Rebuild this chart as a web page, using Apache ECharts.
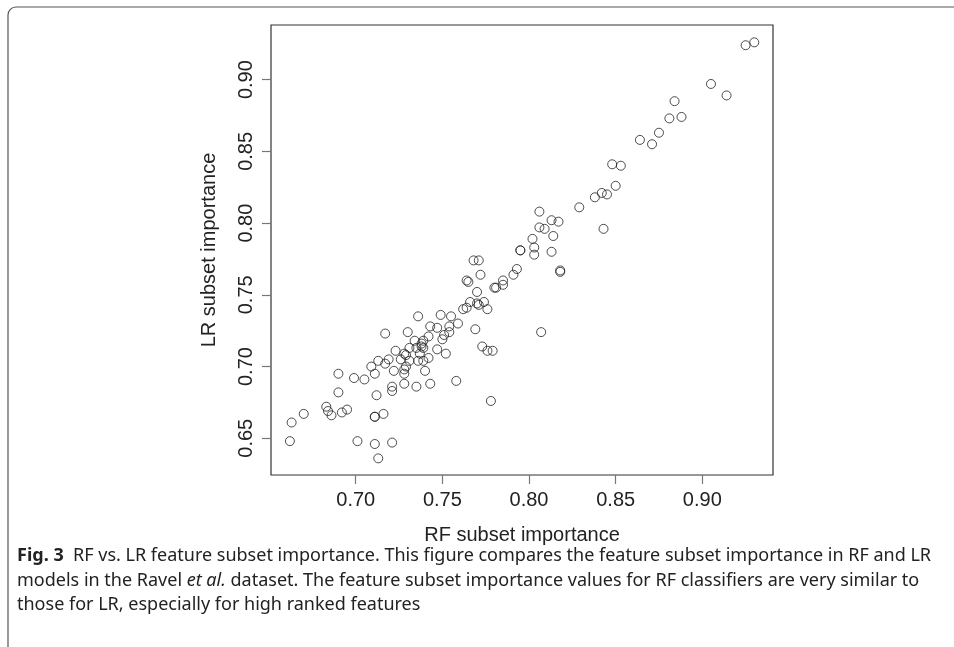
<!DOCTYPE html>
<html>
<head>
<meta charset="utf-8">
<script src="https://cdn.jsdelivr.net/npm/echarts@6/dist/echarts.min.js"></script>
<style>
  html, body { margin: 0; padding: 0; background: #fff; }
  #chart { width: 954px; height: 647px; }
</style>
</head>
<body>
<div id="chart"></div>
<script>
// RF subset importance (x) and LR subset importance (y)
const rfImportance = [
  0.925, 0.930, 0.905, 0.914, 0.884, 0.881, 0.888, 0.875, 0.864, 0.871,
  0.848, 0.853, 0.850, 0.838, 0.842, 0.845, 0.829, 0.843, 0.806, 0.813,
  0.817, 0.806, 0.809, 0.814, 0.802, 0.803, 0.803, 0.813, 0.795, 0.795,
  0.818, 0.818, 0.807, 0.793, 0.791, 0.785, 0.785, 0.780, 0.781, 0.768,
  0.771, 0.772, 0.764, 0.765, 0.770, 0.766, 0.770, 0.771, 0.774, 0.776,
  0.762, 0.764, 0.769, 0.773, 0.776, 0.779, 0.778, 0.758, 0.759, 0.755,
  0.754, 0.749, 0.754, 0.751, 0.750, 0.752, 0.747, 0.747, 0.743, 0.742,
  0.736, 0.730, 0.734, 0.739, 0.738, 0.739, 0.738, 0.735, 0.731, 0.737,
  0.736, 0.739, 0.742, 0.740, 0.743, 0.735, 0.728, 0.723, 0.728, 0.729,
  0.726, 0.731, 0.729, 0.728, 0.728, 0.717, 0.719, 0.717, 0.713, 0.709,
  0.711, 0.722, 0.721, 0.721, 0.712, 0.705, 0.699, 0.690, 0.690, 0.683,
  0.684, 0.686, 0.692, 0.695, 0.670, 0.663, 0.662, 0.701, 0.711, 0.711,
  0.716, 0.711, 0.721, 0.713
];
const lrImportance = [
  0.924, 0.926, 0.897, 0.889, 0.885, 0.873, 0.874, 0.863, 0.858, 0.855,
  0.841, 0.840, 0.826, 0.818, 0.821, 0.820, 0.811, 0.796, 0.808, 0.802,
  0.801, 0.797, 0.796, 0.791, 0.789, 0.783, 0.778, 0.780, 0.781, 0.781,
  0.767, 0.766, 0.724, 0.768, 0.764, 0.760, 0.757, 0.755, 0.755, 0.774,
  0.774, 0.764, 0.760, 0.759, 0.752, 0.745, 0.744, 0.743, 0.745, 0.740,
  0.740, 0.741, 0.726, 0.714, 0.711, 0.711, 0.676, 0.690, 0.730, 0.735,
  0.728, 0.736, 0.724, 0.722, 0.719, 0.709, 0.712, 0.727, 0.728, 0.721,
  0.735, 0.724, 0.718, 0.718, 0.716, 0.713, 0.714, 0.713, 0.713, 0.709,
  0.704, 0.704, 0.706, 0.697, 0.688, 0.686, 0.688, 0.711, 0.709, 0.708,
  0.705, 0.704, 0.700, 0.698, 0.695, 0.723, 0.705, 0.702, 0.704, 0.700,
  0.695, 0.697, 0.686, 0.683, 0.680, 0.691, 0.692, 0.695, 0.682, 0.672,
  0.669, 0.666, 0.668, 0.670, 0.667, 0.661, 0.648, 0.648, 0.665, 0.665,
  0.667, 0.646, 0.647, 0.636
];
const xTickValues = [0.70, 0.75, 0.80, 0.85, 0.90];
const yTickValues = [0.65, 0.70, 0.75, 0.80, 0.85, 0.90];
const xTitle = 'RF subset importance';
const yTitle = 'LR subset importance';

const points = rfImportance.map((v, i) => [v, lrImportance[i]]);
const chart = echarts.init(document.getElementById('chart'), null, { renderer: 'canvas' });
const axisFont = 'Liberation Sans, Arial, sans-serif';
const capFont = 'Noto Sans, sans-serif';
const capSize = 18;

chart.setOption({
  animation: false,
  backgroundColor: '#fff',
  grid: {
    left: 271, top: 25, width: 502, height: 450,
    show: true, borderColor: '#333', borderWidth: 1.2, backgroundColor: 'transparent'
  },
  xAxis: {
    type: 'value', min: 0.6511, max: 0.9408,
    splitLine: { show: false },
    axisLine: { show: false },
    axisTick: { show: true, length: 9, lineStyle: { color: '#777', width: 1.2 }, customValues: xTickValues },
    axisLabel: { customValues: xTickValues, formatter: v => v.toFixed(2), margin: 15,
      fontFamily: axisFont, fontSize: 20, color: '#222' },
    name: xTitle, nameLocation: 'middle', nameGap: 50,
    nameTextStyle: { fontFamily: axisFont, fontSize: 20, color: '#222' }
  },
  yAxis: {
    type: 'value', min: 0.6244, max: 0.9381,
    splitLine: { show: false },
    axisLine: { show: false },
    axisTick: { show: true, length: 9, lineStyle: { color: '#777', width: 1.2 }, customValues: yTickValues },
    axisLabel: { customValues: yTickValues, formatter: v => v.toFixed(2), margin: 15, rotate: 90,
      fontFamily: axisFont, fontSize: 20, color: '#222' },
    name: yTitle, nameLocation: 'middle', nameGap: 52, nameRotate: 90,
    nameTextStyle: { fontFamily: axisFont, fontSize: 20, color: '#222' }
  },
  series: [{
    type: 'scatter',
    data: points,
    symbol: 'circle',
    symbolSize: 9,
    itemStyle: { color: 'rgba(0,0,0,0)', borderColor: '#222', borderWidth: 1 },
    emphasis: { disabled: true }
  }],
  graphic: [
    { type: 'rect', silent: true, shape: { x: 8, y: 7, width: 980, height: 700, r: [8, 0, 0, 0] },
      style: { fill: 'none', stroke: '#555', lineWidth: 1.2 } },
    { type: 'text', left: 17, top: 547, silent: true,
      style: { text: '{b|Fig. 3}  RF vs. LR feature subset importance. This figure compares the feature subset importance in RF and LR',
        font: capSize + 'px ' + capFont, fill: '#222',
        rich: { b: { fontWeight: 'bold', fontFamily: capFont, fontSize: capSize, fill: '#222' } } } },
    { type: 'text', left: 17, top: 572, silent: true,
      style: { text: 'models in the Ravel {i|et al.} dataset. The feature subset importance values for RF classifiers are very similar to',
        font: capSize + 'px ' + capFont, fill: '#222',
        rich: { i: { fontStyle: 'italic', fontFamily: capFont, fontSize: capSize, fill: '#222' } } } },
    { type: 'text', left: 17, top: 596, silent: true,
      style: { text: 'those for LR, especially for high ranked features', font: capSize + 'px ' + capFont, fill: '#222' } }
  ]
});
</script>
</body>
</html>
